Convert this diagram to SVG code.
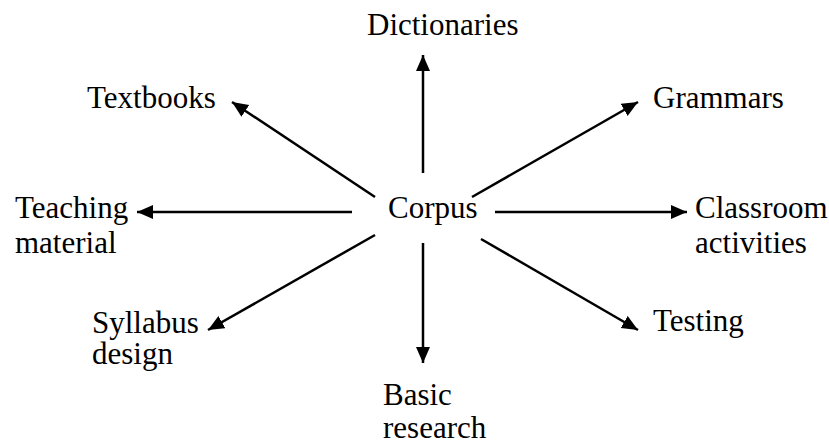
<svg xmlns="http://www.w3.org/2000/svg" width="829" height="444" viewBox="0 0 829 444">
<defs>
<marker id="ah" markerUnits="userSpaceOnUse" markerWidth="17" markerHeight="15" refX="16" refY="7" orient="auto" viewBox="0 0 17 15">
<path d="M0,0 L16,7 L0,14 z" fill="#000"/>
</marker>
</defs>
<rect width="829" height="444" fill="#fff"/>
<g id="connectors" stroke="#000" stroke-width="2.5" fill="none" marker-end="url(#ah)">
<line x1="423" y1="173" x2="423" y2="55"/>
<line x1="375" y1="197" x2="232" y2="102"/>
<line x1="472" y1="197" x2="638" y2="102"/>
<line x1="352" y1="212" x2="137" y2="212"/>
<line x1="495" y1="212" x2="687" y2="212"/>
<line x1="375" y1="235" x2="208" y2="330"/>
<line x1="481" y1="239" x2="638" y2="330"/>
<line x1="423" y1="243" x2="423" y2="363"/>
</g>
<g id="corpus"><text x="388" y="218" font-family="Liberation Serif" font-size="31">Corpus</text></g>
<g id="dictionaries"><text x="367" y="35" font-family="Liberation Serif" font-size="31">Dictionaries</text></g>
<g id="textbooks"><text x="87" y="108" font-family="Liberation Serif" font-size="31">Textbooks</text></g>
<g id="grammars"><text x="653" y="108" font-family="Liberation Serif" font-size="31">Grammars</text></g>
<g id="teaching"><text x="15" y="218" font-family="Liberation Serif" font-size="31">Teaching</text><text x="15" y="253" font-family="Liberation Serif" font-size="31">material</text></g>
<g id="classroom"><text x="695" y="218" font-family="Liberation Serif" font-size="31">Classroom</text><text x="695" y="253" font-family="Liberation Serif" font-size="31">activities</text></g>
<g id="syllabus"><text x="92" y="333" font-family="Liberation Serif" font-size="31">Syllabus</text><text x="92" y="364" font-family="Liberation Serif" font-size="31">design</text></g>
<g id="testing"><text x="653" y="331" font-family="Liberation Serif" font-size="31">Testing</text></g>
<g id="basic"><text x="383" y="405" font-family="Liberation Serif" font-size="31">Basic</text><text x="383" y="438" font-family="Liberation Serif" font-size="31">research</text></g>
</svg>
